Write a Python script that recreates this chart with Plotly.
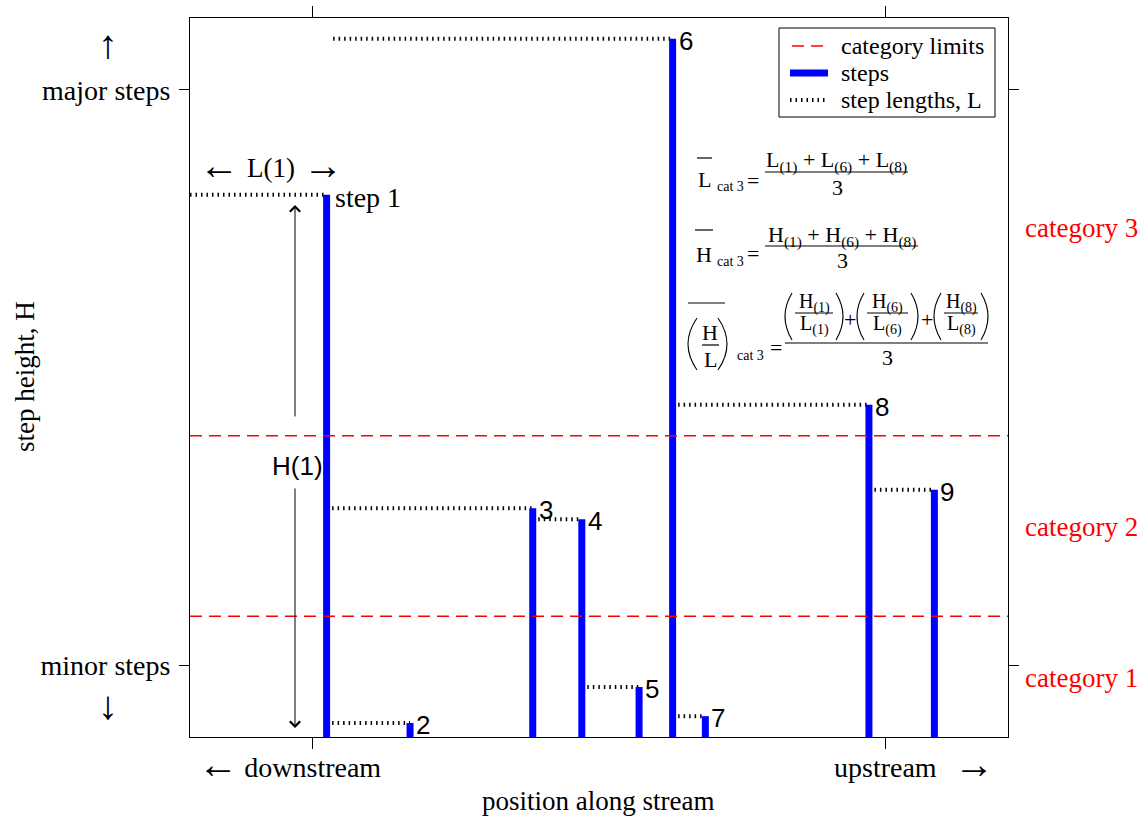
import plotly.graph_objects as go

# ---------------- data ----------------
step_id = [1, 2, 3, 4, 5, 6, 7, 8, 9]
step_pos = [16.7, 26.9, 41.9, 47.9, 54.9, 59.0, 63.0, 83.0, 91.0]
step_height = [75.4, 1.95, 31.8, 30.3, 6.95, 97.1, 2.9, 46.2, 34.4]
length_start = [0.0, 16.7, 16.7, 41.9, 47.9, 17.5, 59.0, 59.0, 83.0]
category_limits = [16.8, 41.9]
category_labels = ["category 1", "category 2", "category 3"]
category_label_y = [8.2, 29.2, 70.8]
x_tick_vals = [15, 85]
x_tick_text = ["downstream", "upstream"]
y_tick_vals = [10, 90]
y_tick_text = ["minor steps", "major steps"]
legend_names = ["category limits", "steps", "step lengths, L"]

SERIF = "Liberation Serif"
SANS = "Liberation Sans"
W, H = 1147, 816
X0, X1, Y0, Y1 = 190, 1008, 737, 18
TS = 27   # main serif text size
AS = 40   # arrow glyph size

STYLE_LIMIT = dict(color="#FF0000", width=1.5, dash="12px,7px")
STYLE_STEP = dict(color="#0000FF", width=7)
STYLE_LEN = dict(color="black", width=4, dash="1.5px,4px")


def px_x(px):
    return (px - X0) / (X1 - X0)


def px_y(py):
    return (Y0 - py) / (Y0 - Y1)


fig = go.Figure()

# step-length dotted lines
lx, ly = [], []
for s, p, h in zip(length_start, step_pos, step_height):
    lx += [s, p, None]
    ly += [h, h, None]
fig.add_trace(go.Scatter(x=lx, y=ly, mode="lines", name=legend_names[2],
                         line=STYLE_LEN, showlegend=False, hoverinfo="skip"))

# steps (vertical bars)
bx, by = [], []
for p, h in zip(step_pos, step_height):
    bx += [p, p, None]
    by += [0, h, None]
fig.add_trace(go.Scatter(x=bx, y=by, mode="lines", name=legend_names[1],
                         line=STYLE_STEP, showlegend=False, hoverinfo="skip"))

# category limits
cx, cy = [], []
for c in category_limits:
    cx += [0, 100, None]
    cy += [c, c, None]
fig.add_trace(go.Scatter(x=cx, y=cy, mode="lines", name=legend_names[0],
                         line=STYLE_LIMIT, showlegend=False, hoverinfo="skip"))

ann = []
shapes = []


def txt(px, py, text, size=TS, family=SERIF, color="black", xanchor="center",
        yanchor="middle", angle=0):
    ann.append(dict(x=px_x(px), y=px_y(py), xref="paper", yref="paper", text=text,
                    showarrow=False, xanchor=xanchor, yanchor=yanchor,
                    textangle=angle,
                    font=dict(family=family, size=size, color=color)))


def seg(x0, x1, py, line):
    shapes.append(dict(type="line", xref="paper", yref="paper", x0=px_x(x0),
                       x1=px_x(x1), y0=px_y(py), y1=px_y(py), line=line,
                       layer="above"))


def hline(x0, x1, py, width=1.2):
    seg(x0, x1, py, dict(color="black", width=width))


def paren(xe, xm, ytop, ybot):
    ctrl = 2 * xm - xe
    ymid = (ytop + ybot) / 2
    path = "M {:.5f},{:.5f} Q {:.5f},{:.5f} {:.5f},{:.5f}".format(
        px_x(xe), px_y(ytop), px_x(ctrl), px_y(ymid), px_x(xe), px_y(ybot))
    shapes.append(dict(type="path", xref="paper", yref="paper", path=path,
                       line=dict(color="black", width=1.1), layer="above"))


# step number labels
for i, p, h in zip(step_id, step_pos, step_height):
    if i == 1:
        ann.append(dict(x=p, y=h, xref="x", yref="y", text="step 1", showarrow=False,
                        xanchor="left", yanchor="middle", xshift=6, yshift=-3,
                        font=dict(family=SERIF, size=TS + 1, color="black")))
    else:
        ann.append(dict(x=p, y=h, xref="x", yref="y", text=str(i), showarrow=False,
                        xanchor="left", yanchor="middle", xshift=4, yshift=-2,
                        font=dict(family=SANS, size=26, color="black")))

# category labels on the right
for lab, yy in zip(category_labels, category_label_y):
    ann.append(dict(x=1.0, y=yy, xref="paper", yref="y", text=lab, showarrow=False,
                    xanchor="left", yanchor="middle", xshift=15,
                    font=dict(family=SERIF, size=TS, color="#FF0000")))

# direction arrows and titles
txt(218, 764, "\u2190", size=AS)
txt(974, 764, "\u2192", size=AS)
txt(108, 45, "\u2191", size=AS)
txt(108, 705, "\u2193", size=AS)
txt(598, 801, "position along stream")
txt(25, 377, "step height, H", angle=-90)
txt(219, 165, "\u2190", size=AS)
txt(271, 168, "L(1)")
txt(323, 165, "\u2192", size=AS)

# H(1) double arrow
for tip, tail in [(205, 418), (728, 487)]:
    ann.append(dict(x=px_x(295), y=px_y(tip), ax=px_x(295), ay=px_y(tail),
                    xref="x domain", yref="y domain", axref="x domain",
                    ayref="y domain", text="", showarrow=True, arrowhead=4,
                    arrowsize=2, arrowwidth=1, arrowcolor="black"))
txt(297, 466, "H(1)", family=SANS, size=26)

# ---------------- legend (drawn box) ----------------
shapes.append(dict(type="rect", xref="paper", yref="paper", x0=px_x(779),
                   x1=px_x(995), y0=px_y(28), y1=px_y(117),
                   line=dict(color="black", width=1), fillcolor="white",
                   layer="above"))
leg_rows = [46, 73, 100]
seg(792, 827, leg_rows[0], STYLE_LIMIT)
seg(790, 828, leg_rows[1], STYLE_STEP)
seg(790, 828, leg_rows[2], STYLE_LEN)
for name, ry in zip(legend_names, leg_rows):
    txt(839, ry, name, size=24, xanchor="left")

# ---------------- formulas ----------------
FS = 22
SUB = 14
# formula 1
txt(704, 179, "L", size=FS)
hline(697, 712, 158)
txt(715, 186, "cat 3", size=SUB, xanchor="left")
txt(753, 180, "=", size=FS)
txt(836, 161, "L<sub>(1)</sub> + L<sub>(6)</sub> + L<sub>(8)</sub>", size=FS)
hline(765, 908, 172)
txt(837, 187, "3", size=FS)
# formula 2
txt(704, 254, "H", size=FS)
hline(695, 713, 230)
txt(715, 261, "cat 3", size=SUB, xanchor="left")
txt(753, 253, "=", size=FS)
txt(842, 236, "H<sub>(1)</sub> + H<sub>(6)</sub> + H<sub>(8)</sub>", size=FS)
hline(765, 918, 246)
txt(842, 260, "3", size=FS)
# formula 3
hline(688, 725, 303)
paren(697, 688, 318, 370)
paren(718, 727, 318, 370)
txt(710, 332, "H", size=FS)
hline(702, 719, 345)
txt(710, 359, "L", size=FS)
txt(735, 355, "cat 3", size=SUB, xanchor="left")
txt(776, 347, "=", size=FS)
hline(785, 988, 343)
txt(887, 357, "3", size=FS)
groups = [(785, 843, "1"), (857, 918, "6"), (934, 988, "8")]
for lft, rgt, n in groups:
    paren(lft + 7, lft, 293, 340)
    paren(rgt - 7, rgt, 293, 340)
    c = (lft + rgt) / 2
    txt(c, 303, "H<sub>(%s)</sub>" % n, size=20)
    hline(lft + 10, rgt - 10, 313)
    txt(c, 325, "L<sub>(%s)</sub>" % n, size=20)
txt(850, 319, "+", size=FS)
txt(927, 319, "+", size=FS)

fig.update_layout(
    width=W, height=H,
    margin=dict(l=X0, r=W - X1, t=Y1, b=H - Y0, pad=0, autoexpand=False),
    paper_bgcolor="white", plot_bgcolor="white",
    showlegend=False,
    xaxis=dict(range=[0, 100], showgrid=False, zeroline=False, showline=True,
               linecolor="black", linewidth=1, mirror="ticks", ticks="outside",
               ticklen=11, tickcolor="black", tickvals=x_tick_vals,
               ticktext=x_tick_text, ticklabelstandoff=-6, automargin=False,
               tickfont=dict(family=SERIF, size=TS + 1, color="black")),
    yaxis=dict(range=[0, 100], showgrid=False, zeroline=False, showline=True,
               linecolor="black", linewidth=1, mirror="ticks", ticks="outside",
               ticklen=10, tickcolor="black", tickvals=y_tick_vals,
               ticktext=y_tick_text, ticklabelstandoff=3, automargin=False,
               tickfont=dict(family=SERIF, size=TS + 1, color="black")),
    annotations=ann,
    shapes=shapes,
)

fig.write_html("out.html")
